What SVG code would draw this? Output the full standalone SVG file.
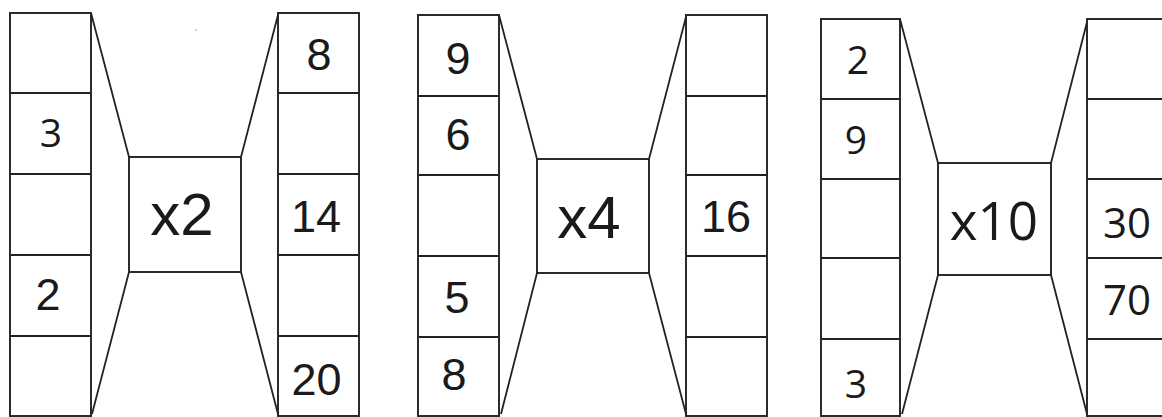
<svg xmlns="http://www.w3.org/2000/svg" width="1162" height="417" viewBox="0 0 1162 417">
<style>
.b{fill:#fff;stroke:#222;stroke-width:1.9}
.d{stroke:#222;stroke-width:1.9;fill:none}
.c{stroke:#222;stroke-width:1.8;fill:none}
.t{font-family:"Liberation Sans",Arial,sans-serif;font-size:45px;fill:#1a1a1a;text-anchor:middle}
.m{font-family:"Liberation Sans",Arial,sans-serif;font-size:60px;fill:#1a1a1a;text-anchor:middle}
.o{font-family:"Open Sans","Noto Sans",sans-serif;font-size:39px;fill:#1a1a1a;text-anchor:middle}
.oc{font-family:"Open Sans","Noto Sans",sans-serif;font-size:42px;fill:#1a1a1a}
.om{font-family:"Open Sans","Noto Sans",sans-serif;font-size:53px;fill:#1a1a1a;text-anchor:middle}
</style>
<rect width="1162" height="417" fill="#fff"/>
<g id="connectors">
<path class="c" d="M91,13 L129,157 M129,272 L92,414 M278,15 L241,157 M241,272 L278,414"/>
<path class="c" d="M499,15 L537,159 M537,273 L501,414 M686,17 L649,159 M649,273 L686,414"/>
<path class="c" d="M900,19 L938,163 M938,275 L902,414 M1087,22 L1051,163 M1051,275 L1087,414"/>
</g>
<g id="in1">
<rect class="b" x="10" y="13" width="81" height="403"/>
<path class="d" d="M10,93H91M10,174H91M10,255H91M10,336H91"/>
<text class="o" x="51" y="147" font-size="37">3</text>
<text class="t" x="48" y="310">2</text>
</g>
<g id="op1">
<rect class="b" x="129" y="157" width="112" height="115"/>
<text class="m" x="182" y="235">x2</text>
</g>
<g id="out1">
<rect class="b" x="278" y="13" width="81" height="403"/>
<path class="d" d="M278,93H359M278,174H359M278,255H359M278,336H359"/>
<text class="t" x="319" y="70">8</text>
<text class="t" x="316" y="232">14</text>
<text class="t" x="316.5" y="395">20</text>
</g>
<g id="in2">
<rect class="b" x="418" y="15" width="81" height="401"/>
<path class="d" d="M418,96H499M418,175H499M418,256H499M418,337H499"/>
<text class="t" x="458" y="74">9</text>
<text class="t" x="458" y="150">6</text>
<text class="t" x="457" y="313">5</text>
<text class="t" x="454" y="390">8</text>
</g>
<g id="op2">
<rect class="b" x="537" y="159" width="112" height="114"/>
<text class="m" x="589" y="238">x4</text>
</g>
<g id="out2">
<rect class="b" x="686" y="15" width="81" height="401"/>
<path class="d" d="M686,96H767M686,175H767M686,256H767M686,337H767"/>
<text class="t" x="726" y="232">16</text>
</g>
<g id="in3">
<rect class="b" x="821" y="19" width="79" height="397"/>
<path class="d" d="M821,99H900M821,179H900M821,258H900M821,339H900"/>
<text class="o" x="858" y="74">2</text>
<text class="o" x="856" y="154">9</text>
<text class="o" x="856" y="398">3</text>
</g>
<g id="op3">
<rect class="b" x="938" y="163" width="113" height="112"/>
<text class="om" x="994" y="240">x10</text>
</g>
<g id="out3">
<rect class="b" x="1087" y="19" width="85" height="397"/>
<path class="d" d="M1087,99H1172M1087,179H1172M1087,258H1172M1087,339H1172"/>
<text class="oc" x="1103" y="238">30</text>
<text class="oc" x="1103" y="315">70</text>
</g>
<circle cx="196" cy="30" r="0.8" fill="#888"/>
</svg>
